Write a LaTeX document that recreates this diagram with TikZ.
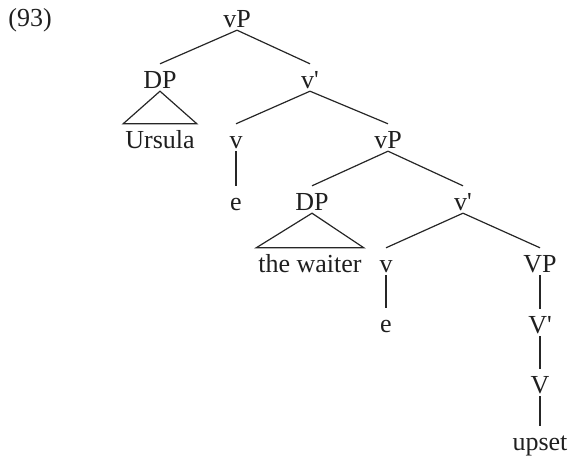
\documentclass[tikz,border=0pt]{standalone}
\usepackage{fontspec}
\setmainfont{Liberation Serif}
\newfontfamily\treefont{Liberation Serif}
\begin{document}
\begin{tikzpicture}[x=1pt,y=-1pt,
  lbl/.style={anchor=base, font=\treefont\fontsize{26}{30}\selectfont,
    text height=21pt, text depth=0pt, inner ysep=3pt, inner xsep=2pt, text=black!88},
  br/.style={line width=1.2pt, draw=black!85, line join=miter}]
\useasboundingbox (0,0) rectangle (570,466);
\node[lbl] (n93) at (30,26) {(93)};
\node[lbl] (vP1) at (237,27) {vP};
\node[lbl] (DP1) at (160,88) {DP};
\node[lbl] (vb1) at (310,88) {v'};
\node[lbl] (urs) at (160,148) {Ursula};
\node[lbl] (v1) at (236,148) {v};
\node[lbl] (vP2) at (388,148) {vP};
\node[lbl] (e1) at (236,210) {e};
\node[lbl] (DP2) at (312,210) {DP};
\node[lbl] (vb2) at (463,210) {v'};
\node[lbl] (wt) at (310,272) {the waiter};
\node[lbl] (v2) at (386,272) {v};
\node[lbl] (VP) at (540,272) {VP};
\node[lbl] (e2) at (386,332) {e};
\node[lbl] (Vb) at (540,333) {V'};
\node[lbl] (V) at (540,393) {V};
\node[lbl] (up) at (540,450) {upset};
\draw[br] (vP1.south) -- (DP1.north);
\draw[br] (vP1.south) -- (vb1.north);
\draw[br] (DP1.south) -- (urs.north west) -- (urs.north east) -- cycle;
\draw[br] (vb1.south) -- (v1.north);
\draw[br] (vb1.south) -- (vP2.north);
\draw[br] (v1.south) -- (e1.north);
\draw[br] (vP2.south) -- (DP2.north);
\draw[br] (vP2.south) -- (vb2.north);
\draw[br] (DP2.south) -- (wt.north west) -- (wt.north east) -- cycle;
\draw[br] (vb2.south) -- (v2.north);
\draw[br] (vb2.south) -- (VP.north);
\draw[br] (v2.south) -- (e2.north);
\draw[br] (VP.south) -- (Vb.north);
\draw[br] (Vb.south) -- (V.north);
\draw[br] (V.south) -- (up.north);
\end{tikzpicture}
\end{document}
